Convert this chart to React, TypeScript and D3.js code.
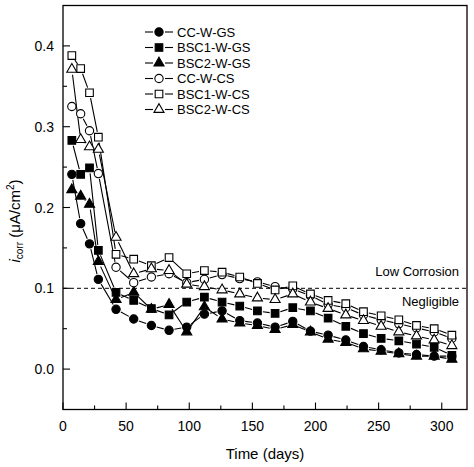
import React from "react";
import * as d3 from "d3";

// sampling days (x)
const days = [7, 14, 21, 28, 42, 56, 70, 84, 98, 112, 126, 140, 154, 168, 182, 196, 210, 224, 238, 252, 266, 280, 294, 308];

// corrosion current density, µA/cm²
const ccWGS = [0.241, 0.18, 0.155, 0.111, 0.074, 0.062, 0.054, 0.048, 0.052, 0.068, 0.072, 0.06, 0.057, 0.052, 0.059, 0.047, 0.042, 0.036, 0.028, 0.024, 0.02, 0.018, 0.016, 0.016];
const bsc1WGS = [0.283, 0.241, 0.249, 0.147, 0.095, 0.085, 0.075, 0.067, 0.083, 0.089, 0.083, 0.078, 0.072, 0.069, 0.076, 0.072, 0.063, 0.053, 0.044, 0.038, 0.035, 0.031, 0.027, 0.017];
const bsc2WGS = [0.222, 0.214, 0.204, 0.133, 0.086, 0.095, 0.074, 0.08, 0.046, 0.077, 0.062, 0.057, 0.054, 0.049, 0.055, 0.046, 0.037, 0.033, 0.025, 0.022, 0.019, 0.016, 0.016, 0.012];
const ccWCS = [0.325, 0.316, 0.295, 0.242, 0.126, 0.107, 0.114, 0.118, 0.107, 0.111, 0.117, 0.112, 0.108, 0.102, 0.099, 0.091, 0.08, 0.076, 0.067, 0.061, 0.056, 0.051, 0.046, 0.038];
const bsc1WCS = [0.388, 0.372, 0.342, 0.287, 0.142, 0.136, 0.128, 0.138, 0.118, 0.122, 0.12, 0.114, 0.106, 0.098, 0.103, 0.093, 0.085, 0.081, 0.071, 0.066, 0.061, 0.054, 0.05, 0.042];
const bsc2WCS = [0.371, 0.284, 0.275, 0.272, 0.163, 0.118, 0.124, 0.122, 0.105, 0.102, 0.098, 0.093, 0.088, 0.086, 0.093, 0.083, 0.075, 0.067, 0.06, 0.053, 0.046, 0.041, 0.036, 0.029];

const seriesNames = ["CC-W-GS", "BSC1-W-GS", "BSC2-W-GS", "CC-W-CS", "BSC1-W-CS", "BSC2-W-CS"];
const seriesValues = [ccWGS, bsc1WGS, bsc2WGS, ccWCS, bsc1WCS, bsc2WCS];
const markerKinds = ["circle", "square", "triangle", "circle", "square", "triangle"];
const markerFilled = [true, true, true, false, false, false];

const xTicks = [0, 50, 100, 150, 200, 250, 300];
const yTicks = [0.0, 0.1, 0.2, 0.3, 0.4];
const threshold = 0.1;

const W = 474;
const H = 467;
const left = 63, right = 467, top = 5.5, bottom = 409.5;
const font = "'Liberation Sans', Arial, sans-serif";

const x = d3.scaleLinear().domain([0, 320]).range([left, right]);
const y = d3.scaleLinear().domain([-0.05, 0.45]).range([bottom, top]);

const symbolPath = (kind: string) => {
  const type = kind === "circle" ? d3.symbolCircle : kind === "square" ? d3.symbolSquare : d3.symbolTriangle;
  const size = kind === "circle" ? 54 : kind === "square" ? 58 : 44;
  return d3.symbol().type(type).size(size)() as string;
};

// solid line broken around each marker
const gappedPath = (pts: [number, number][], gap: number) => {
  let d = "";
  for (let i = 0; i < pts.length - 1; i++) {
    const [x0, y0] = pts[i];
    const [x1, y1] = pts[i + 1];
    const len = Math.hypot(x1 - x0, y1 - y0);
    if (len <= gap * 2) continue;
    const ux = (x1 - x0) / len, uy = (y1 - y0) / len;
    d += `M${x0 + ux * gap},${y0 + uy * gap}L${x1 - ux * gap},${y1 - uy * gap}`;
  }
  return d;
};

const Marker = ({ kind, filled, cx, cy }: { kind: string; filled: boolean; cx: number; cy: number }) => (
  <path
    d={symbolPath(kind)}
    transform={`translate(${cx},${cy})`}
    fill={filled ? "#000" : "#fff"}
    stroke="#000"
    strokeWidth={1.1}
  />
);

export default function App() {
  const legendY = (i: number) => 32 + i * 15.5;
  return (
    <svg width={W} height={H} style={{ position: "absolute", left: 0, top: 0, background: "#fff" }} fontFamily={font}>
      <rect x={0} y={0} width={W} height={H} fill="#fff" />

      {/* threshold line */}
      <line x1={left} x2={right} y1={y(threshold)} y2={y(threshold)} stroke="#000" strokeWidth={1} strokeDasharray="4,3" />
      <text x={459} y={276} textAnchor="end" fontSize={13}>Low Corrosion</text>
      <text x={459} y={306} textAnchor="end" fontSize={13}>Negligible</text>

      {/* series lines */}
      {seriesValues.map((vals, s) => (
        <path
          key={"l" + s}
          d={gappedPath(vals.map((v, i) => [x(days[i]), y(v)] as [number, number]), 5.5)}
          fill="none"
          stroke="#000"
          strokeWidth={1.1}
        />
      ))}
      {/* markers */}
      {seriesValues.map((vals, s) => (
        <g key={"m" + s}>
          {vals.map((v, i) => (
            <Marker key={i} kind={markerKinds[s]} filled={markerFilled[s]} cx={x(days[i])} cy={y(v)} />
          ))}
        </g>
      ))}

      {/* frame */}
      <rect x={left} y={top} width={right - left} height={bottom - top} fill="none" stroke="#000" strokeWidth={1.3} />

      {/* x axis ticks */}
      {xTicks.map((t) => (
        <g key={"x" + t}>
          <line x1={x(t)} x2={x(t)} y1={bottom} y2={bottom - 7} stroke="#000" strokeWidth={1.1} />
          <text x={x(t)} y={431} textAnchor="middle" fontSize={14}>{t}</text>
        </g>
      ))}
      {d3.range(25, 320, 50).map((t) => (
        <line key={"xm" + t} x1={x(t)} x2={x(t)} y1={bottom} y2={bottom - 4} stroke="#000" strokeWidth={1.1} />
      ))}

      {/* y axis ticks */}
      {yTicks.map((t) => (
        <g key={"y" + t}>
          <line x1={left} x2={left + 7} y1={y(t)} y2={y(t)} stroke="#000" strokeWidth={1.1} />
          <text x={54} y={y(t) + 5} textAnchor="end" fontSize={14}>{t.toFixed(1)}</text>
        </g>
      ))}
      {[0.05, 0.15, 0.25, 0.35].map((t) => (
        <line key={"ym" + t} x1={left} x2={left + 4} y1={y(t)} y2={y(t)} stroke="#000" strokeWidth={1.1} />
      ))}

      {/* axis titles */}
      <text x={(left + right) / 2} y={459} textAnchor="middle" fontSize={15}>Time (days)</text>
      <text transform="translate(20,221) rotate(-90)" textAnchor="middle" fontSize={15}>
        <tspan fontStyle="italic">i</tspan>
        <tspan fontSize={10} dy={3}>corr</tspan>
        <tspan dy={-3}> (μA/cm</tspan>
        <tspan fontSize={10} dy={-6}>2</tspan>
        <tspan dy={6}>)</tspan>
      </text>

      {/* legend */}
      {seriesNames.map((name, i) => (
        <g key={"lg" + i}>
          <line x1={145} x2={153} y1={legendY(i)} y2={legendY(i)} stroke="#000" strokeWidth={1.1} />
          <line x1={165} x2={173} y1={legendY(i)} y2={legendY(i)} stroke="#000" strokeWidth={1.1} />
          <Marker kind={markerKinds[i]} filled={markerFilled[i]} cx={159} cy={legendY(i)} />
          <text x={177} y={legendY(i) + 4.7} fontSize={13}>{name}</text>
        </g>
      ))}
    </svg>
  );
}
